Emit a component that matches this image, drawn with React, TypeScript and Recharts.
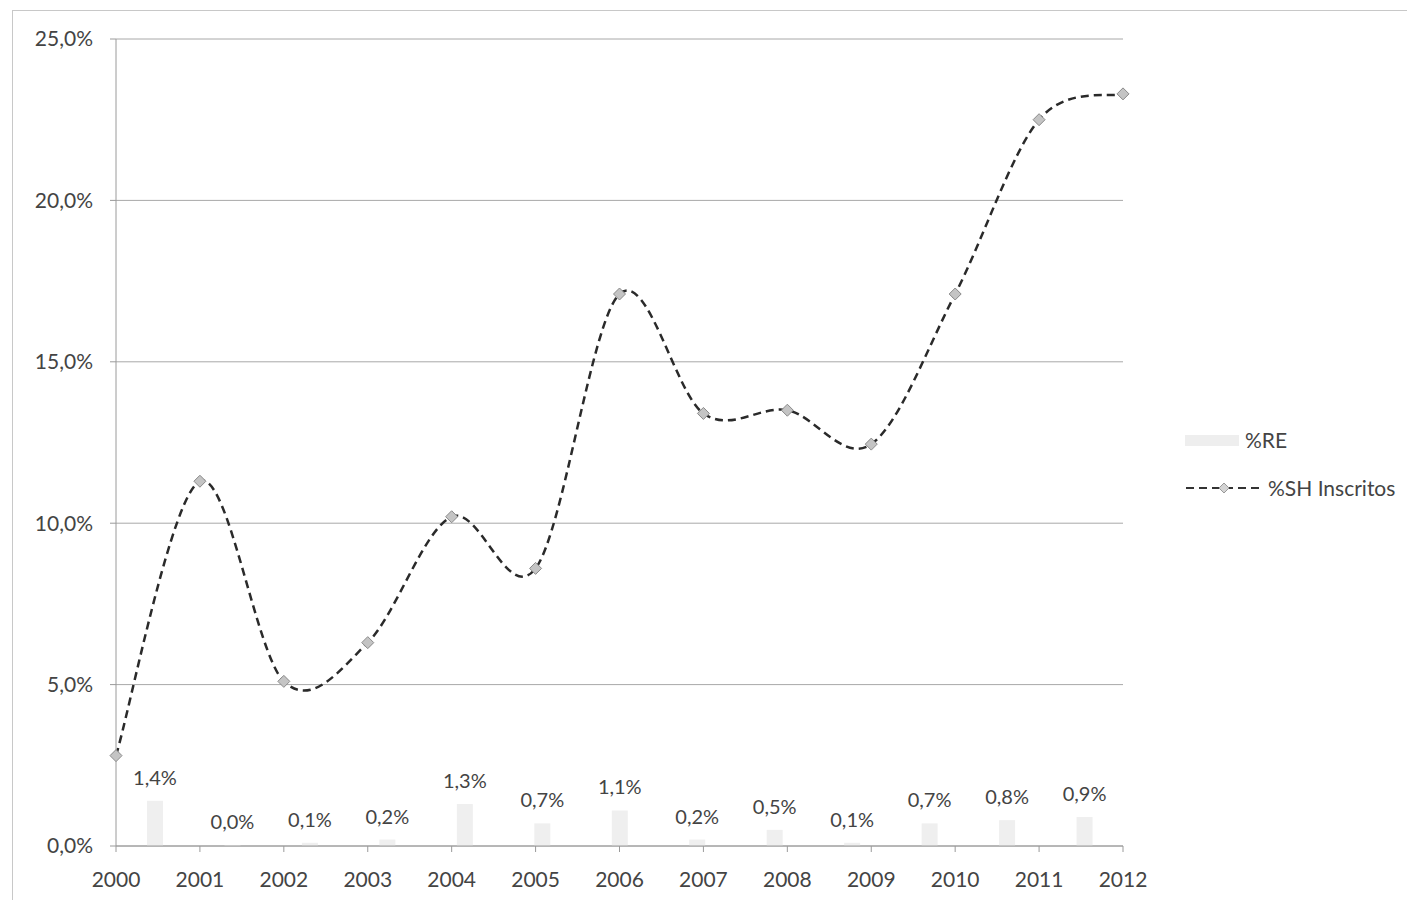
import React from "react";
import {
  ComposedChart,
  Line,
  Bar,
  XAxis,
  YAxis,
  CartesianGrid,
  LabelList,
} from "recharts";

const years = [2000, 2001, 2002, 2003, 2004, 2005, 2006, 2007, 2008, 2009, 2010, 2011, 2012];
const shInscritos = [2.8, 11.3, 5.1, 6.3, 10.2, 8.6, 17.1, 13.4, 13.5, 12.45, 17.1, 22.5, 23.3];
const reValues = [1.4, 0.0, 0.1, 0.2, 1.3, 0.7, 1.1, 0.2, 0.5, 0.1, 0.7, 0.8, 0.9];
const yTicks = [0, 5, 10, 15, 20, 25];

const data = years.map((y, i) => ({
  year: y,
  cat: String(y),
  sh: shInscritos[i],
  re: reValues[i],
}));

const FONT = "Lato, 'Open Sans', sans-serif";
const fmt = (v: number) => v.toFixed(1).replace(".", ",") + "%";

// Excel-like smoothing (Catmull-Rom via cubic Bezier)
const excelCurve = (context: any) => {
  let pts: number[][] = [];
  return {
    areaStart() {},
    areaEnd() {},
    lineStart() {
      pts = [];
    },
    lineEnd() {
      const n = pts.length;
      if (!n) return;
      context.moveTo(pts[0][0], pts[0][1]);
      for (let i = 0; i < n - 1; i++) {
        const p0 = pts[i - 1] || pts[i];
        const p1 = pts[i];
        const p2 = pts[i + 1];
        const p3 = pts[i + 2] || pts[i + 1];
        const c1x = p1[0] + (p2[0] - p0[0]) / 6;
        const c1y = p1[1] + (p2[1] - p0[1]) / 6;
        const c2x = p2[0] - (p3[0] - p1[0]) / 6;
        const c2y = p2[1] - (p3[1] - p1[1]) / 6;
        context.bezierCurveTo(c1x, c1y, c2x, c2y, p2[0], p2[1]);
      }
    },
    point(x: number, y: number) {
      pts.push([+x, +y]);
    },
  };
};

const Diamond = (props: any) => {
  const { cx, cy, index } = props;
  if (cx == null || cy == null) return <g key={index} />;
  const r = 6;
  return (
    <polygon
      key={index}
      points={`${cx},${cy - r} ${cx + r},${cy} ${cx},${cy + r} ${cx - r},${cy}`}
      fill="#c4c4c4"
      stroke="#8a8a8a"
      strokeWidth={1}
    />
  );
};

const LegendBox = () => (
  <div
    style={{
      position: "absolute",
      left: 1176,
      top: 408,
      fontFamily: FONT,
      fontSize: 21,
      color: "#444",
      lineHeight: "48px",
    }}
  >
    <div style={{ display: "flex", alignItems: "center" }}>
      <span
        style={{
          display: "inline-block",
          width: 54,
          height: 11,
          background: "#eeeeee",
          marginRight: 6,
          marginLeft: 1,
        }}
      />
      <span>%RE</span>
    </div>
    <div style={{ display: "flex", alignItems: "center" }}>
      <svg width={80} height={14} style={{ marginRight: 4 }}>
        <line x1={2} y1={7} x2={78} y2={7} stroke="#333" strokeWidth={2} strokeDasharray="8 5" />
        <polygon points="40,2 45,7 40,12 35,7" fill="#d4d4d4" stroke="#999" strokeWidth={1} />
      </svg>
      <span>%SH Inscritos</span>
    </div>
  </div>
);

export default function App() {
  return (
    <div
      style={{
        position: "relative",
        width: 1399,
        height: 892,
        background: "#fff",
      }}
    >
      <div
        style={{
          position: "absolute",
          left: 4,
          top: 2,
          width: 1395,
          height: 890,
          borderTop: "1px solid #c8c8c8",
          borderLeft: "1px solid #c8c8c8",
          boxSizing: "border-box",
        }}
      />
      <ComposedChart
        width={1399}
        height={892}
        data={data}
        margin={{ top: 31, right: 284, bottom: 4, left: 28 }}
        style={{ fontFamily: FONT }}
      >
        <CartesianGrid vertical={false} stroke="#a8a8a8" strokeWidth={1} />
        <XAxis
          xAxisId="line"
          dataKey="year"
          type="number"
          domain={[2000, 2012]}
          ticks={years}
          interval={0}
          height={50}
          stroke="#9a9a9a"
          tickSize={6}
          tickMargin={20}
          tick={{ fill: "#444", fontSize: 21, fontFamily: FONT }}
          allowDecimals={false}
        />
        <XAxis
          xAxisId="bar"
          dataKey="cat"
          type="category"
          scale="band"
          orientation="top"
          height={0}
          hide
        />
        <YAxis
          domain={[0, 25]}
          ticks={yTicks}
          interval={0}
          width={80}
          stroke="#9a9a9a"
          tickSize={6}
          tickMargin={17}
          tickFormatter={(v: number) => fmt(v)}
          tick={{ fill: "#444", fontSize: 21, fontFamily: FONT }}
        />
        <Bar
          xAxisId="bar"
          dataKey="re"
          barSize={16}
          fill="#efefef"
          minPointSize={1}
          isAnimationActive={false}
        >
          <LabelList
            dataKey="re"
            position="top"
            offset={16}
            formatter={(v: any) => fmt(Number(v))}
            style={{ fill: "#444", fontSize: 20, fontFamily: FONT }}
          />
        </Bar>
        <Line
          xAxisId="line"
          dataKey="sh"
          type={excelCurve as any}
          stroke="#2a2a2a"
          strokeWidth={2.5}
          strokeDasharray="8 5"
          dot={Diamond}
          activeDot={false}
          isAnimationActive={false}
        />
      </ComposedChart>
      <LegendBox />
    </div>
  );
}
